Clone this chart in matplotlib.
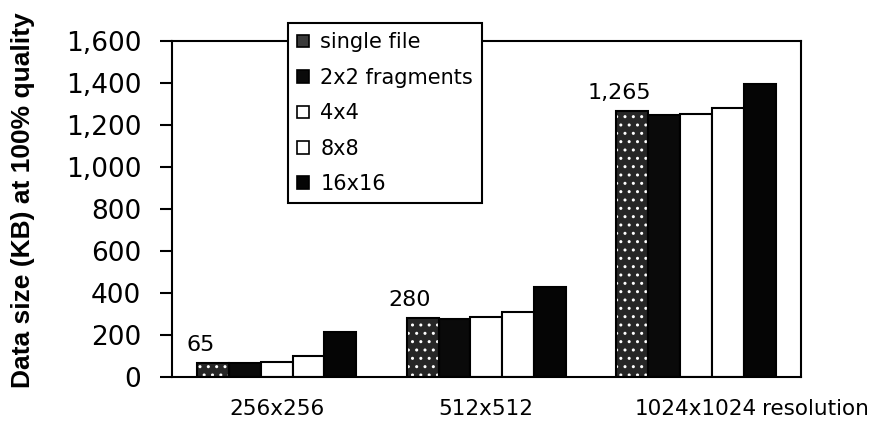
import matplotlib
matplotlib.use("Agg")
import matplotlib.pyplot as plt
from matplotlib.patches import Patch
import numpy as np

# Data size (KB) at 100% quality per resolution and fragmentation
categories = ["256x256", "512x512", "1024x1024"]
series_names = ["single file", "2x2 fragments", "4x4", "8x8", "16x16"]
single_file = [65, 280, 1265]
frag_2x2 = [68, 276, 1245]
frag_4x4 = [72, 285, 1250]
frag_8x8 = [100, 310, 1280]
frag_16x16 = [215, 430, 1395]
labelled_values = single_file
yticks = [0, 200, 400, 600, 800, 1000, 1200, 1400, 1600]

series = [single_file, frag_2x2, frag_4x4, frag_8x8, frag_16x16]
faces = ["#262626", "#0a0a0a", "white", "white", "#050505"]

plt.rcParams["hatch.linewidth"] = 1.0

fig = plt.figure(figsize=(8.77, 4.21), dpi=100)
ax = fig.add_axes([0.196, 0.105, 0.717, 0.798])

x = np.arange(len(categories))
n = len(series)
width = 0.152
offsets = (np.arange(n) - (n - 1) / 2) * width

for i, (vals, fc) in enumerate(zip(series, faces)):
    pos = x + offsets[i]
    if i == 0:
        # stippled fill: dark face with white dots, outline drawn on top
        ax.bar(pos, vals, width, color=fc, edgecolor="white", hatch="..",
               linewidth=0, zorder=2)
        ax.bar(pos, vals, width, fill=False, edgecolor="black",
               linewidth=1.5, zorder=3)
    else:
        ax.bar(pos, vals, width, color=fc, edgecolor="black",
               linewidth=1.5, zorder=2)

# value labels above the single-file bars
for xi, v in zip(x + offsets[0], labelled_values):
    txt = f"{v:,}"
    ax.annotate(txt, (xi - 0.06, v), xytext=(0, 6), textcoords="offset points",
                ha="center", va="bottom", fontsize=16)

ax.set_xlim(-0.5, 2.5)
ax.set_ylim(0, 1600)
ax.set_yticks(yticks)
ax.set_yticklabels([f"{t:,}" for t in yticks], fontsize=19)
ax.set_xticks(x)
ax.set_xticklabels(categories, fontsize=15.5)
ax.tick_params(axis="x", length=0, pad=16)
ax.tick_params(axis="y", direction="out", length=9, width=1.5, pad=13)
for s in ax.spines.values():
    s.set_linewidth(1.5)
    s.set_color("black")

ax.text((762 - 172) / 629, -0.065, "resolution", transform=ax.transAxes,
        ha="left", va="top", fontsize=15.5)
ax.set_ylabel("Data size (KB) at 100% quality", fontsize=19,
              fontweight="bold", family="Liberation Sans")
ax.yaxis.set_label_coords(-0.218, 0.527)

handles = []
for i, (name, fc) in enumerate(zip(series_names, faces)):
    if i == 0:
        handles.append(Patch(facecolor="#3a3a3a", edgecolor="black",
                             linewidth=1.2))
    else:
        handles.append(Patch(facecolor=fc, edgecolor="black", linewidth=1.2))
leg = ax.legend(handles, series_names, loc="upper left",
                bbox_to_anchor=(288 / 877, 1 - 23 / 421),
                bbox_transform=fig.transFigure, borderaxespad=0,
                fontsize=15, handlelength=0.55, handleheight=0.55,
                handletextpad=0.55, labelspacing=0.74, borderpad=0.45,
                fancybox=False, framealpha=1, edgecolor="black")
leg.get_frame().set_linewidth(1.5)
leg.set_zorder(5)

fig.savefig("out.png", dpi=100)
